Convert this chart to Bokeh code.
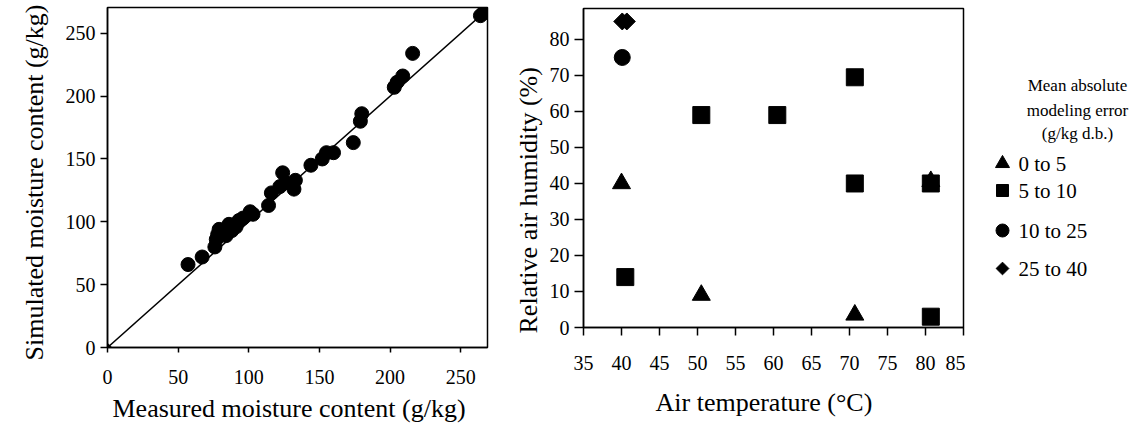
import math
from bokeh.plotting import figure
from bokeh.layouts import row, column
from bokeh.models import FixedTicker, Range1d, Title
from bokeh.core.properties import value
from bokeh.embed import file_html
from bokeh.resources import INLINE

FONT = "Liberation Serif"

# ---- left panel data: measured vs simulated moisture content (g/kg)
measured = [57, 67, 76, 77, 78, 79, 81, 84, 86, 88, 91, 93, 96, 101, 103, 114, 116,
            122, 124, 126, 132, 133, 144, 152, 155, 160, 174, 179, 180, 203, 205,
            209, 216, 264, 266, 268]
simulated = [66, 72, 80, 86, 90, 94, 92, 89, 98, 93, 96, 101, 103, 108, 106, 113, 123,
             128, 139, 131, 126, 133, 145, 150, 155, 155, 163, 180, 186, 207, 211,
             216, 234, 264, 266, 267]
left_ticks = [0, 50, 100, 150, 200, 250]
left_x_max = 269
left_y_max = 270.5

# ---- right panel data: air temperature (°C) vs relative humidity (%)
tri_temp = [40, 50.5, 70.7, 80.7]
tri_rh = [40, 9, 3.5, 40.6]
sq_temp = [40.5, 50.5, 60.5, 70.7, 70.7, 80.7, 80.7]
sq_rh = [14, 59, 59, 69.5, 40, 40, 3]
circ_temp = [40.1]
circ_rh = [75]
dia_temp = [40.1, 40.7]
dia_rh = [85, 85]
right_x_ticks = [35, 40, 45, 50, 55, 60, 65, 70, 75, 80, 85]
right_y_ticks = [0, 10, 20, 30, 40, 50, 60, 70, 80]

legend_title = ["Mean absolute", "modeling error", "(g/kg d.b.)"]
legend_labels = ["0 to 5", "5 to 10", "10 to 25", "25 to 40"]


def style(p, tick_out_x, tick_out_y, std_x, std_y):
    for ax, t_out, std in ((p.xaxis, tick_out_x, std_x), (p.yaxis, tick_out_y, std_y)):
        ax.major_tick_out = t_out
        ax.major_tick_in = 0
        ax.minor_tick_out = 0
        ax.minor_tick_in = 0
        ax.axis_line_width = 1.5
        ax.axis_line_color = "black"
        ax.major_tick_line_width = 1.5
        ax.major_tick_line_color = "black"
        ax.major_label_text_font = FONT
        ax.major_label_text_font_size = "20px"
        ax.major_label_text_color = "black"
        ax.major_label_standoff = std
    p.grid.visible = False
    p.outline_line_color = "black"
    p.outline_line_width = 1.5
    p.outline_line_alpha = 1.0
    p.background_fill_color = "white"
    p.border_fill_color = "white"


def side_title(text, align, standoff, offset):
    return Title(text=text, align=align, text_font=FONT, text_font_size="26px",
                 text_font_style="normal", text_color="black",
                 standoff=standoff, offset=offset)


# ---------------- left figure
p1 = figure(width=495, height=429, x_range=Range1d(0, left_x_max),
            y_range=Range1d(0, left_y_max), output_backend="svg",
            toolbar_location=None, min_border_left=107, min_border_right=8,
            min_border_top=7, min_border_bottom=82)
style(p1, 5, 7, 17, 5)
p1.xaxis.ticker = FixedTicker(ticks=left_ticks)
p1.yaxis.ticker = FixedTicker(ticks=left_ticks)
p1.add_layout(side_title("Measured moisture content (g/kg)", "left", 11, 5), "below")
p1.add_layout(side_title("Simulated moisture content (g/kg)", "left", 28, -13), "left")

p1.line([0, left_y_max], [0, left_y_max], line_color="black", line_width=1.5)
p1.scatter([0], [0], marker="square", angle=math.pi / 4, size=6,
           fill_color="black", line_color="black")
p1.scatter(measured, simulated, marker="circle", size=14,
           fill_color="black", line_color="black")

# ---------------- right figure
p2 = figure(width=470, height=429, x_range=Range1d(35, 85),
            y_range=Range1d(0, 88.6), output_backend="svg",
            toolbar_location=None, min_border_left=88, min_border_right=2,
            min_border_top=8, min_border_bottom=102)
style(p2, 8, 9, 20, 5)
p2.xaxis.ticker = FixedTicker(ticks=right_x_ticks)
p2.yaxis.ticker = FixedTicker(ticks=right_y_ticks)
p2.add_layout(side_title("Air temperature (\u00b0C)", "left", 26, 72), "below")
p2.add_layout(side_title("Relative air humidity (%)", "left", 8, -6), "left")

p2.scatter(tri_temp, tri_rh, marker="triangle", size=18,
           fill_color="black", line_color="black")
p2.scatter(sq_temp, sq_rh, marker="square", size=17,
           fill_color="black", line_color="black")
p2.scatter(circ_temp, circ_rh, marker="circle", size=16,
           fill_color="black", line_color="black")
p2.scatter(dia_temp, dia_rh, marker="square", angle=math.pi / 4, size=12,
           fill_color="black", line_color="black")

# ---------------- legend figure (data coords = page pixels)
p3 = figure(width=164, height=429, x_range=Range1d(965, 1129), y_range=Range1d(327, 8),
            output_backend="svg", toolbar_location=None,
            x_axis_location=None, y_axis_location=None,
            min_border_left=0, min_border_right=0, min_border_top=8,
            min_border_bottom=102, outline_line_color=None)
p3.grid.visible = False
p3.text(x=[1077, 1077, 1077], y=[85, 110, 133], text=legend_title,
        text_font=value(FONT), text_font_size="17px", text_align="center",
        text_baseline="middle", text_color="black")
item_y = [163, 190, 230, 268]
p3.text(x=[1018] * 4, y=item_y, text=legend_labels, text_font=value(FONT),
        text_font_size="21px", text_align="left", text_baseline="middle",
        text_color="black")
p3.scatter([1002], [item_y[0]], marker="triangle", size=14, fill_color="black", line_color="black")
p3.scatter([1002], [item_y[1]], marker="square", size=12, fill_color="black", line_color="black")
p3.scatter([1002], [item_y[2]], marker="circle", size=13, fill_color="black", line_color="black")
p3.scatter([1002], [item_y[3]], marker="square", angle=math.pi / 4, size=9,
           fill_color="black", line_color="black")

layout = row(column(p1), column(p2), column(p3), spacing=0)
open("out.html", "w").write(file_html(layout, INLINE))
